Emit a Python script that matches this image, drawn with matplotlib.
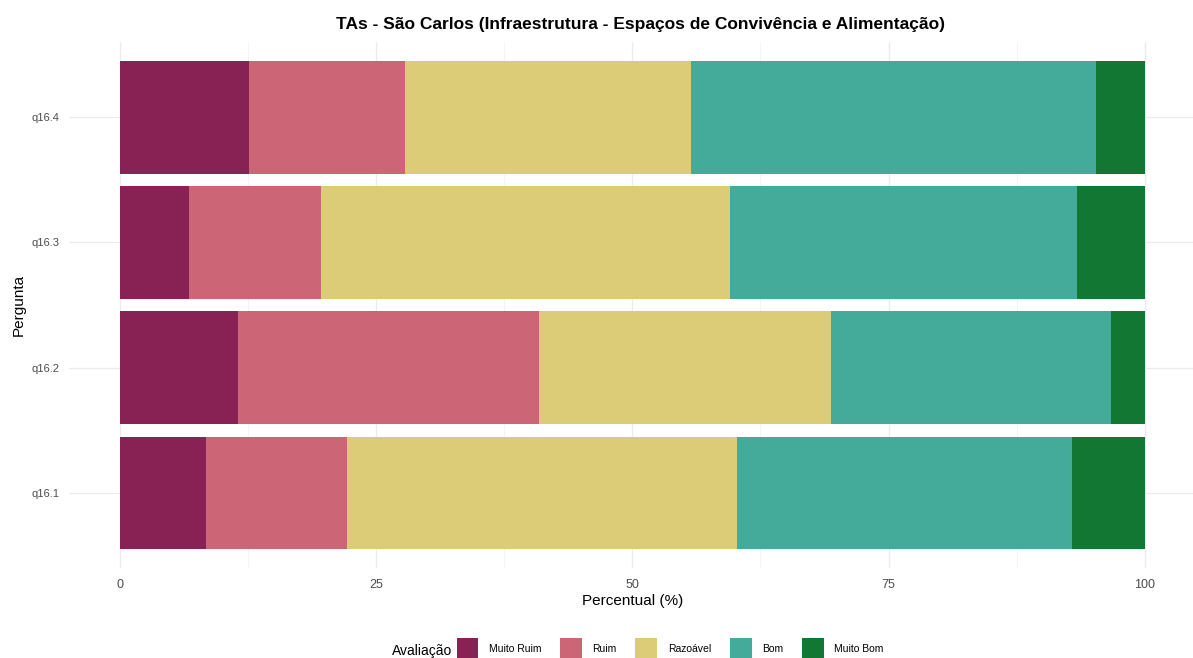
import numpy as np
import matplotlib
import matplotlib.pyplot as plt
from matplotlib.patches import Patch
from matplotlib.ticker import MultipleLocator

matplotlib.use('Agg')
plt.rcParams['font.family'] = ['Liberation Sans', 'DejaVu Sans']

# data (percent per rating, per question)
questions = ['q16.1', 'q16.2', 'q16.3', 'q16.4']
ratings = ['Muito Ruim', 'Ruim', 'Razoável', 'Bom', 'Muito Bom']
muito_ruim = [8.4, 11.5, 6.7, 12.6]
ruim = [13.8, 29.4, 12.9, 15.2]
razoavel = [38.0, 28.5, 39.9, 27.9]
bom = [32.7, 27.3, 33.9, 39.5]
muito_bom = [7.1, 3.3, 6.6, 4.8]
colors = ['#882255', '#CC6677', '#DDCC77', '#44AA99', '#117733']

W, H = 1193, 658
fig = plt.figure(figsize=(W / 100, H / 100), dpi=100)
px_left, px_right, px_top, px_bottom = 68.75, 1196, 42, 568
axes = fig.add_axes([px_left / W, 1 - px_bottom / H,
                     (px_right - px_left) / W, (px_bottom - px_top) / H])

y = np.arange(len(questions)) + 1
left = np.zeros(len(questions))
for values, color in zip([muito_ruim, ruim, razoavel, bom, muito_bom], colors):
    axes.barh(y, values, left=left, height=0.9, color=color, zorder=2)
    left += np.array(values)

axes.set_xlim(-5, 105)
axes.set_ylim(0.4, len(questions) + 0.6)
axes.set_yticks(y)
axes.set_yticklabels(questions)
axes.xaxis.set_major_locator(MultipleLocator(25))
axes.xaxis.set_minor_locator(MultipleLocator(12.5))

for spine in axes.spines.values():
    spine.set_visible(False)
axes.tick_params(which='both', length=0, colors='#4D4D4D')
axes.tick_params(axis='y', pad=7, labelsize=8)
axes.tick_params(axis='x', pad=8, labelsize=9)
axes.grid(which='major', color='#EBEBEB', linewidth=0.9, zorder=0)
axes.grid(which='minor', axis='x', color='#F3F3F3', linewidth=0.6, zorder=0)
axes.set_axisbelow(True)

axes.set_xlabel('Percentual (%)', fontsize=11, labelpad=2)
axes.set_ylabel('Pergunta', fontsize=11, labelpad=4)
fig.text(0.537, 1 - 25 / H, 'TAs - São Carlos (Infraestrutura - Espaços de Convivência e Alimentação)',
         ha='center', va='center', fontsize=12.5, fontweight='bold')

handles = [Patch(facecolor=c, edgecolor='none') for c in colors]
fig.text(452 / W, 1 - 651 / H, 'Avaliação', ha='right', va='center', fontsize=10)
fig.legend(handles, ratings, loc='center', bbox_to_anchor=(670 / W, 1 - 649 / H),
           ncol=5, frameon=False, fontsize=7.5, handlelength=2.1, handleheight=2.9,
           handletextpad=1.0, columnspacing=1.8, borderaxespad=0, borderpad=0)

fig.savefig('out.png', dpi=100)
